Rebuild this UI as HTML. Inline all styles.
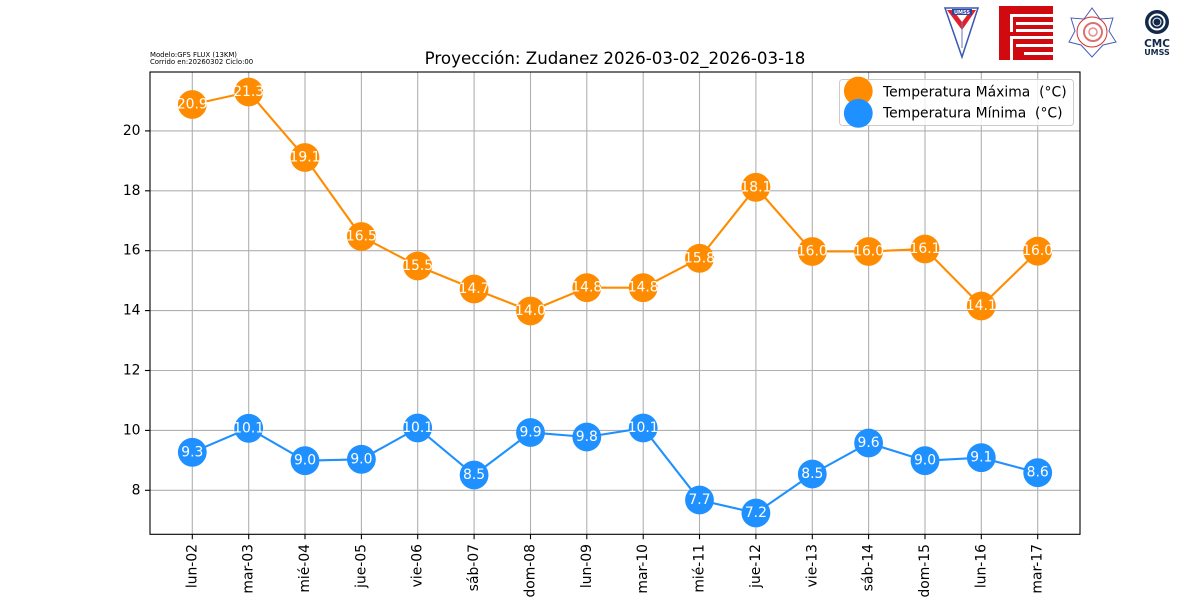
<!DOCTYPE html>
<html><head><meta charset="utf-8"><style>
html,body{margin:0;padding:0;background:#fff;}
svg{display:block;font-family:"DejaVu Sans","Liberation Sans",sans-serif;}
</style></head><body>
<svg width="1200" height="600" viewBox="0 0 1200 600" xmlns="http://www.w3.org/2000/svg">
<rect width="1200" height="600" fill="#fff"/>
<!-- logos -->
<g>
 <polygon points="945,8 978,8 962,57" fill="#fff" stroke="#3a58b0" stroke-width="1.5"/>
 <polygon points="947,10 976,10 962,30" fill="#e0202a"/>
 <polygon points="953,10 971,10 962,22" fill="#fff"/>
 <rect x="952" y="9" width="20" height="6" fill="#2a44a0"/>
 <text x="962" y="14" font-size="5" fill="#fff" text-anchor="middle" font-weight="bold">UMSS</text>
 <line x1="962" y1="22" x2="962" y2="48" stroke="#6a7ac0" stroke-width="1"/>
</g>
<g>
 <rect x="999" y="6" width="54" height="54" fill="#d10a10"/>
 <rect x="1010" y="14" width="43" height="3" fill="#fff"/>
 <rect x="1010" y="14" width="3" height="18" fill="#fff"/>
 <rect x="1016" y="22" width="37" height="3" fill="#fff"/>
 <rect x="1016" y="29" width="37" height="3" fill="#fff"/>
 <rect x="1010" y="36" width="43" height="3" fill="#fff"/>
 <rect x="1010" y="36" width="3" height="24" fill="#fff"/>
 <rect x="1016" y="44" width="37" height="3" fill="#fff"/>
 <rect x="1024" y="52" width="29" height="3" fill="#fff"/>
</g>
<g>
 <polygon points="1092,8 1100,19 1113,18 1109,31 1116,42 1103,45 1092,57 1081,45 1069,42 1075,31 1071,18 1084,19" fill="#fff" stroke="#4a5cb8" stroke-width="1"/>
 <circle cx="1092" cy="32" r="15" fill="none" stroke="#d03030" stroke-width="1"/>
 <circle cx="1093" cy="32" r="9" fill="none" stroke="#e07070" stroke-width="2"/>
 <circle cx="1093" cy="32" r="4" fill="none" stroke="#e09090" stroke-width="1.5"/>
</g>
<g>
 <circle cx="1157" cy="22" r="12" fill="#13294b"/>
 <circle cx="1157" cy="22" r="7.5" fill="none" stroke="#fff" stroke-width="2"/>
 <circle cx="1157" cy="22" r="4" fill="#13294b" stroke="#fff" stroke-width="1"/>
 <text x="1157" y="47" font-size="10.5" font-weight="bold" fill="#13294b" text-anchor="middle">CMC</text>
 <text x="1157" y="55" font-size="8" font-weight="bold" fill="#13294b" text-anchor="middle">UMSS</text>
</g>
<!-- header texts -->
<text x="150" y="57" font-size="6.9" fill="#000">Modelo:GFS FLUX (13KM)</text>
<text x="150" y="64" font-size="6.9" fill="#000">Corrido en:20260302 Ciclo:00</text>
<text x="615" y="64" font-size="16.67" fill="#000" text-anchor="middle">Proyección: Zudanez 2026-03-02_2026-03-18</text>
<!-- grid -->
<g stroke="#b0b0b0" stroke-width="1.1">
 <line x1="150" x2="1080" y1="490.3" y2="490.3"/>
 <line x1="150" x2="1080" y1="430.4" y2="430.4"/>
 <line x1="150" x2="1080" y1="370.5" y2="370.5"/>
 <line x1="150" x2="1080" y1="310.6" y2="310.6"/>
 <line x1="150" x2="1080" y1="250.7" y2="250.7"/>
 <line x1="150" x2="1080" y1="190.8" y2="190.8"/>
 <line x1="150" x2="1080" y1="130.9" y2="130.9"/>
 <line y1="72" y2="534.3" x1="192.3" x2="192.3"/>
 <line y1="72" y2="534.3" x1="248.7" x2="248.7"/>
 <line y1="72" y2="534.3" x1="305.0" x2="305.0"/>
 <line y1="72" y2="534.3" x1="361.4" x2="361.4"/>
 <line y1="72" y2="534.3" x1="417.7" x2="417.7"/>
 <line y1="72" y2="534.3" x1="474.1" x2="474.1"/>
 <line y1="72" y2="534.3" x1="530.5" x2="530.5"/>
 <line y1="72" y2="534.3" x1="586.8" x2="586.8"/>
 <line y1="72" y2="534.3" x1="643.2" x2="643.2"/>
 <line y1="72" y2="534.3" x1="699.5" x2="699.5"/>
 <line y1="72" y2="534.3" x1="755.9" x2="755.9"/>
 <line y1="72" y2="534.3" x1="812.3" x2="812.3"/>
 <line y1="72" y2="534.3" x1="868.6" x2="868.6"/>
 <line y1="72" y2="534.3" x1="925.0" x2="925.0"/>
 <line y1="72" y2="534.3" x1="981.3" x2="981.3"/>
 <line y1="72" y2="534.3" x1="1037.7" x2="1037.7"/>
</g>
<!-- max series -->
<polyline fill="none" stroke="#ff8c00" stroke-width="2.1" points="192.3,104.5 248.7,92 305.0,157.5 361.4,236.5 417.7,266 474.1,289 530.5,311 586.8,287.7 643.2,287.7 699.5,258.3 755.9,187.3 812.3,251.5 868.6,251.5 925.0,249 981.3,306 1037.7,251.2"/>
<g fill="#ff8c00">
 <circle cx="192.3" cy="104.5" r="14.4"/><circle cx="248.7" cy="92" r="14.4"/><circle cx="305.0" cy="157.5" r="14.4"/><circle cx="361.4" cy="236.5" r="14.4"/>
 <circle cx="417.7" cy="266" r="14.4"/><circle cx="474.1" cy="289" r="14.4"/><circle cx="530.5" cy="311" r="14.4"/><circle cx="586.8" cy="287.7" r="14.4"/>
 <circle cx="643.2" cy="287.7" r="14.4"/><circle cx="699.5" cy="258.3" r="14.4"/><circle cx="755.9" cy="187.3" r="14.4"/><circle cx="812.3" cy="251.5" r="14.4"/>
 <circle cx="868.6" cy="251.5" r="14.4"/><circle cx="925.0" cy="249" r="14.4"/><circle cx="981.3" cy="306" r="14.4"/><circle cx="1037.7" cy="251.2" r="14.4"/>
</g>
<g fill="#fff" font-size="13.9" text-anchor="middle" dominant-baseline="central">
 <text x="192.3" y="104.5">20.9</text><text x="248.7" y="92">21.3</text><text x="305.0" y="157.5">19.1</text><text x="361.4" y="236.5">16.5</text>
 <text x="417.7" y="266">15.5</text><text x="474.1" y="289">14.7</text><text x="530.5" y="311">14.0</text><text x="586.8" y="287.7">14.8</text>
 <text x="643.2" y="287.7">14.8</text><text x="699.5" y="258.3">15.8</text><text x="755.9" y="187.3">18.1</text><text x="812.3" y="251.5">16.0</text>
 <text x="868.6" y="251.5">16.0</text><text x="925.0" y="249">16.1</text><text x="981.3" y="306">14.1</text><text x="1037.7" y="251.2">16.0</text>
</g>
<!-- min series -->
<polyline fill="none" stroke="#1e90ff" stroke-width="2.1" points="192.3,452.3 248.7,428.3 305.0,460.7 361.4,459.3 417.7,428 474.1,475 530.5,432.5 586.8,437 643.2,428 699.5,500 755.9,513 812.3,474 868.6,443 925.0,460.7 981.3,457.7 1037.7,472.7"/>
<g fill="#1e90ff">
 <circle cx="192.3" cy="452.3" r="14.4"/><circle cx="248.7" cy="428.3" r="14.4"/><circle cx="305.0" cy="460.7" r="14.4"/><circle cx="361.4" cy="459.3" r="14.4"/>
 <circle cx="417.7" cy="428" r="14.4"/><circle cx="474.1" cy="475" r="14.4"/><circle cx="530.5" cy="432.5" r="14.4"/><circle cx="586.8" cy="437" r="14.4"/>
 <circle cx="643.2" cy="428" r="14.4"/><circle cx="699.5" cy="500" r="14.4"/><circle cx="755.9" cy="513" r="14.4"/><circle cx="812.3" cy="474" r="14.4"/>
 <circle cx="868.6" cy="443" r="14.4"/><circle cx="925.0" cy="460.7" r="14.4"/><circle cx="981.3" cy="457.7" r="14.4"/><circle cx="1037.7" cy="472.7" r="14.4"/>
</g>
<g fill="#fff" font-size="13.9" text-anchor="middle" dominant-baseline="central">
 <text x="192.3" y="452.3">9.3</text><text x="248.7" y="428.3">10.1</text><text x="305.0" y="460.7">9.0</text><text x="361.4" y="459.3">9.0</text>
 <text x="417.7" y="428">10.1</text><text x="474.1" y="475">8.5</text><text x="530.5" y="432.5">9.9</text><text x="586.8" y="437">9.8</text>
 <text x="643.2" y="428">10.1</text><text x="699.5" y="500">7.7</text><text x="755.9" y="513">7.2</text><text x="812.3" y="474">8.5</text>
 <text x="868.6" y="443">9.6</text><text x="925.0" y="460.7">9.0</text><text x="981.3" y="457.7">9.1</text><text x="1037.7" y="472.7">8.6</text>
</g>
<!-- axes frame -->
<rect x="150" y="72" width="930" height="462.3" fill="none" stroke="#000" stroke-width="1.1"/>
<!-- y ticks -->
<g stroke="#000" stroke-width="1.1">
 <line x1="145" x2="150" y1="490.3" y2="490.3"/><line x1="145" x2="150" y1="430.4" y2="430.4"/>
 <line x1="145" x2="150" y1="370.5" y2="370.5"/><line x1="145" x2="150" y1="310.6" y2="310.6"/>
 <line x1="145" x2="150" y1="250.7" y2="250.7"/><line x1="145" x2="150" y1="190.8" y2="190.8"/>
 <line x1="145" x2="150" y1="130.9" y2="130.9"/>
</g>
<g font-size="13.9" fill="#000" text-anchor="end" dominant-baseline="central">
 <text x="140.5" y="490.3">8</text><text x="140.5" y="430.4">10</text><text x="140.5" y="370.5">12</text>
 <text x="140.5" y="310.6">14</text><text x="140.5" y="250.7">16</text><text x="140.5" y="190.8">18</text><text x="140.5" y="130.9">20</text>
</g>
<!-- x ticks -->
<g stroke="#000" stroke-width="1.1">
 <line y1="534.3" y2="539.2" x1="192.3" x2="192.3"/><line y1="534.3" y2="539.2" x1="248.7" x2="248.7"/>
 <line y1="534.3" y2="539.2" x1="305.0" x2="305.0"/><line y1="534.3" y2="539.2" x1="361.4" x2="361.4"/>
 <line y1="534.3" y2="539.2" x1="417.7" x2="417.7"/><line y1="534.3" y2="539.2" x1="474.1" x2="474.1"/>
 <line y1="534.3" y2="539.2" x1="530.5" x2="530.5"/><line y1="534.3" y2="539.2" x1="586.8" x2="586.8"/>
 <line y1="534.3" y2="539.2" x1="643.2" x2="643.2"/><line y1="534.3" y2="539.2" x1="699.5" x2="699.5"/>
 <line y1="534.3" y2="539.2" x1="755.9" x2="755.9"/><line y1="534.3" y2="539.2" x1="812.3" x2="812.3"/>
 <line y1="534.3" y2="539.2" x1="868.6" x2="868.6"/><line y1="534.3" y2="539.2" x1="925.0" x2="925.0"/>
 <line y1="534.3" y2="539.2" x1="981.3" x2="981.3"/><line y1="534.3" y2="539.2" x1="1037.7" x2="1037.7"/>
</g>
<g font-size="13.9" fill="#000" text-anchor="end" dominant-baseline="central">
 <text transform="translate(192.3,544) rotate(-90)">lun-02</text>
 <text transform="translate(248.7,544) rotate(-90)">mar-03</text>
 <text transform="translate(305.0,544) rotate(-90)">mié-04</text>
 <text transform="translate(361.4,544) rotate(-90)">jue-05</text>
 <text transform="translate(417.7,544) rotate(-90)">vie-06</text>
 <text transform="translate(474.1,544) rotate(-90)">sáb-07</text>
 <text transform="translate(530.5,544) rotate(-90)">dom-08</text>
 <text transform="translate(586.8,544) rotate(-90)">lun-09</text>
 <text transform="translate(643.2,544) rotate(-90)">mar-10</text>
 <text transform="translate(699.5,544) rotate(-90)">mié-11</text>
 <text transform="translate(755.9,544) rotate(-90)">jue-12</text>
 <text transform="translate(812.3,544) rotate(-90)">vie-13</text>
 <text transform="translate(868.6,544) rotate(-90)">sáb-14</text>
 <text transform="translate(925.0,544) rotate(-90)">dom-15</text>
 <text transform="translate(981.3,544) rotate(-90)">lun-16</text>
 <text transform="translate(1037.7,544) rotate(-90)">mar-17</text>
</g>
<!-- legend -->
<rect x="839.5" y="79.5" width="234" height="46" rx="3" ry="3" fill="#fff" fill-opacity="0.8" stroke="#cccccc" stroke-width="1"/>
<line x1="844" x2="872" y1="91" y2="91" stroke="#ff8c00" stroke-width="2.1"/>
<circle cx="858.3" cy="91" r="14.4" fill="#ff8c00"/>
<line x1="844" x2="872" y1="113.3" y2="113.3" stroke="#1e90ff" stroke-width="2.1"/>
<circle cx="858.3" cy="113.3" r="14.4" fill="#1e90ff"/>
<text x="883" y="96.5" font-size="13.9" fill="#000" xml:space="preserve">Temperatura Máxima  (°C)</text>
<text x="883" y="117.7" font-size="13.9" fill="#000" xml:space="preserve">Temperatura Mínima  (°C)</text>
</svg>
</body></html>
